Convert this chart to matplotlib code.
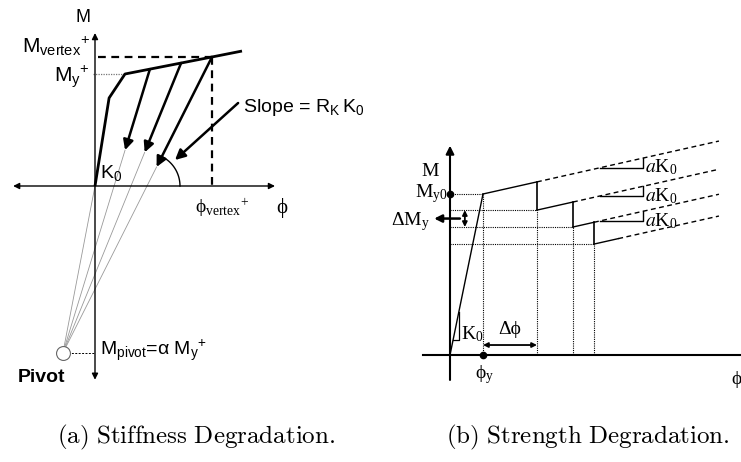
import numpy as np
import matplotlib
matplotlib.use("Agg")
import matplotlib.pyplot as plt

W, H = 741, 462

# ---------------- panel (a): stiffness degradation (pivot model) ----------------
# backbone: origin, cracking, yield, vertex, end of post-yield branch
phi_a = [0.0, 0.47, 1.0, 3.9, 4.9]
M_a = [0.0, 0.786, 1.0, 1.152, 1.205]
phi_vertex = 3.9
unload_phi = [1.83, 2.87, 3.9]          # unloading starts on backbone
unload_end_M = [0.32, 0.30, 0.17]        # where each unloading arrow stops
pivot_phi = -1.07
alpha = -1.49                            # M_pivot = alpha * My+

# ---------------- panel (b): strength degradation ----------------
seg_phi_start = [1.0, 2.636, 3.727, 4.364]
seg_level = [1.0, 0.90, 0.795, 0.689]
seg_phi_end = [2.636, 3.727, 4.364, 5.1]
a_ratio = 0.046                          # post-yield stiffness ratio a (K0 = 1)
phi_max_b = 8.15

fig = plt.figure(figsize=(W / 100, H / 100), dpi=100)


def make_axes(px_l, px_r, px_t, px_b, x0, sx, y0, sy):
    """Axes whose data units map to a fixed pixel origin and scale."""
    ax = fig.add_axes([px_l / W, 1 - px_b / H, (px_r - px_l) / W, (px_b - px_t) / H])
    ax.set_xlim((px_l - x0) / sx, (px_r - x0) / sx)
    ax.set_ylim((y0 - px_b) / sy, (y0 - px_t) / sy)
    ax.axis("off")
    return ax


sans = "Liberation Sans"
serif = ["Liberation Serif", "DejaVu Serif"]
PHI = "\u03d5"   # straight-stroke phi

# ============ (a) ============
SX_A, SY_A = 30.0, 112.0
axa = make_axes(0, 330, 0, 400, 95, SX_A, 186, SY_A)

arrow_kw = dict(arrowstyle="-|>", color="black", shrinkA=0, shrinkB=0)
# coordinate axes
axa.annotate("", xy=(6.0, 0), xytext=(-2.73, 0),
             arrowprops=dict(arrowstyle="<|-|>", color="black", lw=1.0,
                             mutation_scale=9, shrinkA=0, shrinkB=0))
axa.annotate("", xy=(0, 1.366), xytext=(0, -1.73),
             arrowprops=dict(arrowstyle="<|-|>", color="black", lw=1.0,
                             mutation_scale=9, shrinkA=0, shrinkB=0))

# backbone
axa.plot(phi_a, M_a, color="black", lw=2.0, solid_capstyle="butt", zorder=3)

My = 1.0
M_vertex = np.interp(phi_vertex, phi_a, M_a)
M_pivot = alpha * My
# vertex / yield reference lines
axa.plot([0.1, phi_vertex], [M_vertex, M_vertex], color="black", lw=1.6,
         dashes=(3.5, 2.5))
axa.plot([phi_vertex, phi_vertex], [M_vertex, 0], color="black", lw=1.6,
         dashes=(3.5, 2.5))
axa.plot([-0.07, phi_a[2]], [My, My], color="#777777", lw=0.9, ls=(0, (1, 1)))

# lines to the pivot
axa.plot([0, pivot_phi], [0, M_pivot], color="#999999", lw=0.6)
for p0, me in zip(unload_phi, unload_end_M):
    m0 = np.interp(p0, phi_a, M_a)
    t = (m0 - me) / (m0 - M_pivot)
    pe = p0 + t * (pivot_phi - p0)
    axa.plot([pe, pivot_phi], [me, M_pivot], color="#999999", lw=0.6)
    axa.annotate("", xy=(pe, me), xytext=(p0, m0),
                 arrowprops=dict(arrow_kw, lw=1.8, mutation_scale=15))

# angle arc at the last unloading branch
m3 = np.interp(unload_phi[-1], phi_a, M_a)
phi_c = unload_phi[-1] - m3 / (m3 - M_pivot) * (unload_phi[-1] - pivot_phi)
ang = np.arctan2(m3 * SY_A, (unload_phi[-1] - phi_c) * SX_A)
th = np.linspace(0, ang, 40)
r_px = 33
axa.plot(phi_c + r_px * np.cos(th) / SX_A, r_px * np.sin(th) / SY_A,
         color="black", lw=1.0)
axa.annotate("", xy=(2.667, 0.232), xytext=(4.77, 0.741),
             arrowprops=dict(arrow_kw, lw=1.8, mutation_scale=15))

# pivot marker
axa.plot([pivot_phi + 0.17, 0], [M_pivot, M_pivot], color="black", lw=0.7,
         ls=(0, (2, 1.5)))
axa.plot([pivot_phi], [M_pivot], marker="o", ms=10, mfc="white", mec="#666666",
         mew=0.8, zorder=4)

axa.text(-0.4, 1.50, "M", family=sans, fontsize=13, ha="center", va="center")
axa.text(-0.17, (186 - 53) / SY_A, r"$\mathregular{M_{vertex}{}^{+}}$", family=sans,
         fontsize=15, ha="right", va="baseline")
axa.text(-0.17, (186 - 82) / SY_A, r"$\mathregular{M_{y}{}^{+}}$", family=sans,
         fontsize=15, ha="right", va="baseline")
axa.text(0.17, (186 - 178) / SY_A, r"$\mathregular{K_{0}}$", family=sans,
         fontsize=14, ha="left", va="baseline")
axa.text((243 - 95) / SX_A, (186 - 112) / SY_A, r"Slope = $\mathregular{R_{K}\,K_{0}}$",
         family=sans, fontsize=14, ha="left", va="baseline")
axa.text((195 - 95) / SX_A, (186 - 213) / SY_A,
         r"$\mathregular{" + PHI + r"_{vertex}{}^{+}}$",
         family=serif, fontsize=14, ha="left", va="baseline")
axa.text((282 - 95) / SX_A, (186 - 213) / SY_A, PHI,
         family=serif, fontsize=15, ha="center", va="baseline")
axa.text((100 - 95) / SX_A, (186 - 355) / SY_A,
         r"$\mathregular{M_{pivot}}$=" + "α" + r" M$\mathregular{_{y}{}^{+}}$",
         family=[sans, "DejaVu Sans"], fontsize=14, ha="left", va="baseline")
axa.text((18 - 95) / SX_A, (186 - 382) / SY_A, "Pivot", family=sans,
         fontweight="bold", fontsize=14, ha="left", va="baseline")

# ============ (b) ============
SX_B, SY_B = 33.0, 161.0
axb = make_axes(380, 741, 100, 400, 450, SX_B, 355, SY_B)

axb.plot([-0.82, 10], [0, 0], color="black", lw=1.5, clip_on=False)
axb.annotate("", xy=(0, 1.30), xytext=(0, -0.155),
             arrowprops=dict(arrowstyle="-|>", color="black", lw=1.5,
                             mutation_scale=12, shrinkA=0, shrinkB=0))

# elastic branch
axb.plot([0, seg_phi_start[0]], [0, seg_level[0]], color="black", lw=1.0)

dot = dict(color="black", lw=0.8, ls=(0, (1, 1)))
n = len(seg_level)
for k in range(n):
    p0, lv, p1 = seg_phi_start[k], seg_level[k], seg_phi_end[k]
    m1 = lv + a_ratio * (p1 - p0)
    mmax = lv + a_ratio * (phi_max_b - p0)
    axb.plot([p0, p1], [lv, m1], color="black", lw=1.0)
    axb.plot([p1, phi_max_b], [m1, mmax], color="black", lw=1.0, dashes=(3.5, 2.5))
    if k + 1 < n:
        axb.plot([p1, p1], [m1, seg_level[k + 1]], color="black", lw=1.2)
    axb.plot([0, p0], [lv, lv], **dot)
    axb.plot([p0, p0], [0, lv], **dot)
    if k < 3:
        t0, t1 = (600 - 450) / SX_B, (643 - 450) / SX_B
        mt0 = lv + a_ratio * (t0 - p0)
        mt1 = lv + a_ratio * (t1 - p0)
        axb.plot([t0, t1, t1], [mt0, mt0, mt1], color="black", lw=1.0)
        axb.text(t1 + 0.06, mt0 - 5 / SY_B, r"$\mathit{a}\mathregular{K_{0}}$",
                 family=serif, math_fontfamily="stix", fontsize=14,
                 ha="left", va="baseline")

axb.plot([0], [seg_level[0]], "o", color="black", ms=4.5)
axb.plot([seg_phi_start[0]], [0], "o", color="black", ms=4.5, clip_on=False)

# initial stiffness triangle
tk = 0.27
tb = 0.093
axb.plot([tb, tk, tk], [tb, tb, tk], color="black", lw=0.9)

# delta My and delta phi dimension arrows
dbl = dict(arrowstyle="<|-|>", color="black", lw=1.3, mutation_scale=7,
           shrinkA=0, shrinkB=0)
axb.annotate("", xy=(0.45, seg_level[1]), xytext=(0.45, seg_level[2]), arrowprops=dbl)
ym = 0.5 * (seg_level[1] + seg_level[2])
axb.annotate("", xy=(-0.48, ym), xytext=(0.3, ym),
             arrowprops=dict(arrowstyle="-|>", color="black", lw=1.8,
                             mutation_scale=11, shrinkA=0, shrinkB=0))
axb.annotate("", xy=(seg_phi_start[0], 0.062), xytext=(seg_phi_end[0], 0.062),
             arrowprops=dbl)

tb_kw = dict(family=serif, fontsize=14)
axb.text((430 - 450) / SX_B, (355 - 176) / SY_B, "M", ha="center",
         va="baseline", **tb_kw)
axb.text(-0.06, (355 - 197) / SY_B, r"$\mathregular{M_{y0}}$", ha="right",
         va="baseline", **tb_kw)
axb.text(-0.6, (355 - 225) / SY_B, r"$\mathregular{ΔM_{y}}$", ha="right",
         va="baseline", **tb_kw)
axb.text(tk + 0.06, (355 - 339) / SY_B, r"$\mathregular{K_{0}}$", ha="left",
         va="baseline", **tb_kw)
axb.text(0.5 * (seg_phi_start[0] + seg_phi_end[0]), (355 - 334) / SY_B,
         "Δ" + PHI, ha="center", va="baseline", **tb_kw)
axb.text(seg_phi_start[0] + 0.05, (355 - 378) / SY_B,
         r"$\mathregular{" + PHI + r"_{y}}$",
         ha="center", va="baseline", **tb_kw)
axb.text((731 - 450) / SX_B, (355 - 384) / SY_B, PHI, ha="left",
         va="baseline", clip_on=False, **tb_kw)

# captions
fig.text(196 / W, 1 - 437 / H, r"$\mathrm{(a)\ Stiffness\ Degradation.}$",
         math_fontfamily="cm", fontsize=18, ha="center", va="center")
fig.text(588 / W, 1 - 437 / H, r"$\mathrm{(b)\ Strength\ Degradation.}$",
         math_fontfamily="cm", fontsize=18, ha="center", va="center")

fig.savefig("out.png", dpi=100, facecolor="white")
